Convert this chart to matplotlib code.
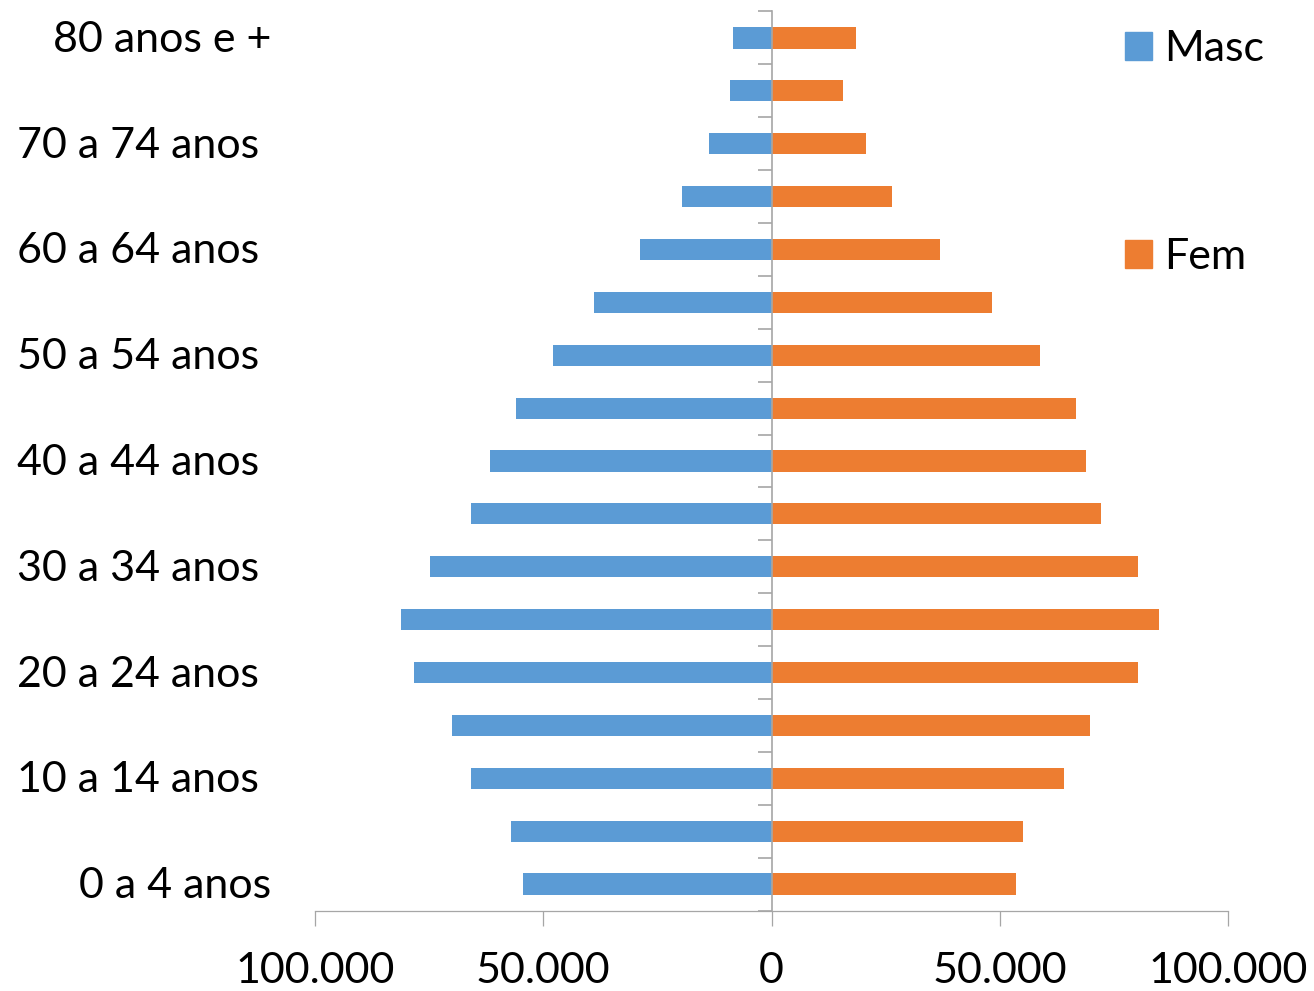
import numpy as np
import matplotlib.pyplot as plt
from matplotlib.patches import Patch
from matplotlib.ticker import FuncFormatter
from matplotlib.transforms import ScaledTranslation

# age groups, bottom to top (trailing space kept as in the source labels)
grupos = ["0 a 4 anos", "5 a 9 anos ", "10 a 14 anos ", "15 a 19 anos ", "20 a 24 anos ",
          "25 a 29 anos ", "30 a 34 anos ", "35 a 39 anos ", "40 a 44 anos ", "45 a 49 anos ",
          "50 a 54 anos ", "55 a 59 anos ", "60 a 64 anos ", "65 a 69 anos ", "70 a 74 anos ",
          "75 a 79 anos ", "80 anos e +"]

masc = [54500, 57000, 65900, 69900, 78400, 81100, 74900, 65900, 61600,
        55900, 47800, 38800, 28700, 19500, 13800, 9200, 8500]
fem = [53500, 55000, 64000, 69700, 80200, 84800, 80200, 72100, 68800,
       66800, 58900, 48200, 37000, 26500, 20600, 15600, 18600]

x_ticks = [-100000, -50000, 0, 50000, 100000]

azul = "#5B9BD5"
laranja = "#ED7D31"
cinza = "#A6A6A6"

plt.rcParams['font.family'] = ['Lato', 'DejaVu Sans']
fs = 31

fig = plt.figure(figsize=(13.14, 9.91), dpi=100)
ax = fig.add_axes([315 / 1314, 1 - 910.5 / 991, 913 / 1314, 899 / 991])

y = np.arange(len(grupos))
ax.barh(y, -np.array(masc), height=0.4, color=azul, label="Masc")
ax.barh(y, fem, height=0.4, color=laranja, label="Fem")

ax.set_xlim(-100000, 100000)
ax.set_ylim(-0.5, len(grupos) - 0.5)

# spines
for s in ['top', 'right']:
    ax.spines[s].set_visible(False)
ax.spines['left'].set_position(('data', 0))
ax.spines['left'].set_color(cinza)
ax.spines['left'].set_linewidth(1.2)
ax.spines['bottom'].set_color(cinza)
ax.spines['bottom'].set_linewidth(0.9)

# y ticks at category boundaries on the central axis
ax.set_yticks(np.arange(-0.5, len(grupos), 1.0))
ax.tick_params(axis='y', length=10, width=1.2, color=cinza, labelleft=False)

# x ticks
ax.set_xticks(x_ticks)
ax.xaxis.set_major_formatter(FuncFormatter(lambda v, p: f"{abs(int(v)):,}".replace(",", ".")))
ax.tick_params(axis='x', length=11, width=0.9, color=cinza, labelsize=fs, pad=19)

# category labels on the far left, every other group
trans = ax.get_yaxis_transform() + ScaledTranslation(0, -2 / 100, fig.dpi_scale_trans)
for i in range(0, len(grupos), 2):
    lab = grupos[i]
    xpos = -56 / 913 if lab.endswith(" ") else -44 / 913
    ax.text(xpos, i, lab.strip(), transform=trans, ha='right', va='center', fontsize=fs)

handles = [Patch(color=azul), Patch(color=laranja)]
ax.legend(handles, ["Masc", "Fem"], loc='upper left', bbox_to_anchor=(1125 / 1314, 1 - 30 / 991),
          bbox_transform=fig.transFigure, frameon=False, fontsize=fs,
          handlelength=0.62, handleheight=0.62, handletextpad=0.3, labelspacing=3.95,
          borderpad=0, borderaxespad=0)

fig.savefig("out.png", dpi=100)
